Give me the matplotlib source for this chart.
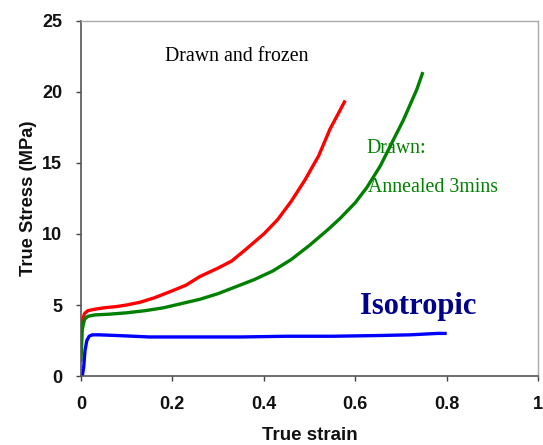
import matplotlib.pyplot as plt

# Data (true strain, true stress in MPa)
frozen_x = [0.0, 0.003, 0.008, 0.015, 0.03, 0.05, 0.08, 0.1, 0.13, 0.16, 0.2, 0.23,
            0.26, 0.3, 0.33, 0.36, 0.4, 0.43, 0.46, 0.49, 0.52, 0.545, 0.565, 0.578]
frozen_y = [3.0, 3.9, 4.4, 4.6, 4.7, 4.8, 4.9, 5.0, 5.2, 5.5, 6.0, 6.4,
            7.0, 7.6, 8.1, 8.9, 10.0, 11.0, 12.3, 13.8, 15.5, 17.4, 18.6, 19.4]

annealed_x = [0.0, 0.003, 0.008, 0.015, 0.03, 0.06, 0.1, 0.14, 0.18, 0.22, 0.26, 0.3,
              0.34, 0.38, 0.42, 0.46, 0.5, 0.54, 0.567, 0.6, 0.626, 0.655, 0.683,
              0.705, 0.72, 0.735, 0.748]
annealed_y = [1.0, 3.3, 4.0, 4.2, 4.3, 4.35, 4.45, 4.6, 4.8, 5.1, 5.4, 5.8,
              6.3, 6.8, 7.4, 8.2, 9.2, 10.3, 11.1, 12.2, 13.3, 14.8, 16.6,
              18.0, 19.1, 20.2, 21.4]

iso_x = [0.003, 0.006, 0.009, 0.013, 0.018, 0.025, 0.04, 0.08, 0.15, 0.25, 0.35,
         0.45, 0.55, 0.65, 0.72, 0.78, 0.8]
iso_y = [0.0, 0.6, 1.8, 2.5, 2.8, 2.9, 2.9, 2.85, 2.75, 2.75, 2.75,
         2.8, 2.8, 2.85, 2.9, 3.0, 3.0]

fig = plt.figure(figsize=(5.43, 4.45), dpi=100)
ax = fig.add_axes([0.149, 0.155, 0.842, 0.798])

ax.plot(frozen_x, frozen_y, color='#ff0000', lw=2.4, solid_capstyle='butt')
ax.plot(annealed_x, annealed_y, color='#008000', lw=2.4, solid_capstyle='butt')
ax.plot(iso_x, iso_y, color='#0000ff', lw=2.4, solid_capstyle='butt')

ax.set_xlim(0, 1)
ax.set_ylim(0, 25)
ax.set_xticks([0, 0.2, 0.4, 0.6, 0.8, 1])
ax.set_xticklabels(['0', '0.2', '0.4', '0.6', '0.8', '1'])
ax.set_yticks([0, 5, 10, 15, 20, 25])

sans = 'Liberation Sans'
serif = 'Liberation Serif'
for lab in ax.get_xticklabels() + ax.get_yticklabels():
    lab.set_fontfamily(sans)
    lab.set_fontsize(13)
    lab.set_fontweight('bold')
    lab.set_color('#111111')
ax.tick_params(direction='out', length=3.6, width=1, color='#444444', pad=11)
ax.tick_params(axis='y', pad=10)

ax.set_xlabel('True strain', fontfamily=sans, fontsize=13.5, fontweight='bold',
              color='#111111', labelpad=10)
ax.set_ylabel('True Stress (MPa)', fontfamily=sans, fontsize=13.2, fontweight='bold',
              color='#111111')
ax.yaxis.set_label_coords(-0.097, 0.5)

for side in ['left', 'bottom']:
    ax.spines[side].set_color('#555555')
    ax.spines[side].set_linewidth(1.2)
for side in ['top', 'right']:
    ax.spines[side].set_color('#aaaaaa')
    ax.spines[side].set_linewidth(1.0)

ax.text(0.183, 22.5, 'Drawn and frozen', fontfamily=serif, fontsize=14.3, color='black',
        va='center')
ax.text(0.625, 16.0, 'Drawn:', fontfamily=serif, fontsize=14.3, color='#008000', va='center')
ax.text(0.627, 13.3, 'Annealed 3mins', fontfamily=serif, fontsize=14.3, color='#008000',
        va='center')
ax.text(0.61, 4.9, 'Isotropic', fontfamily=serif, fontsize=22, fontweight='bold',
        color='#00008b', va='center')

fig.savefig('out.png', dpi=100)
